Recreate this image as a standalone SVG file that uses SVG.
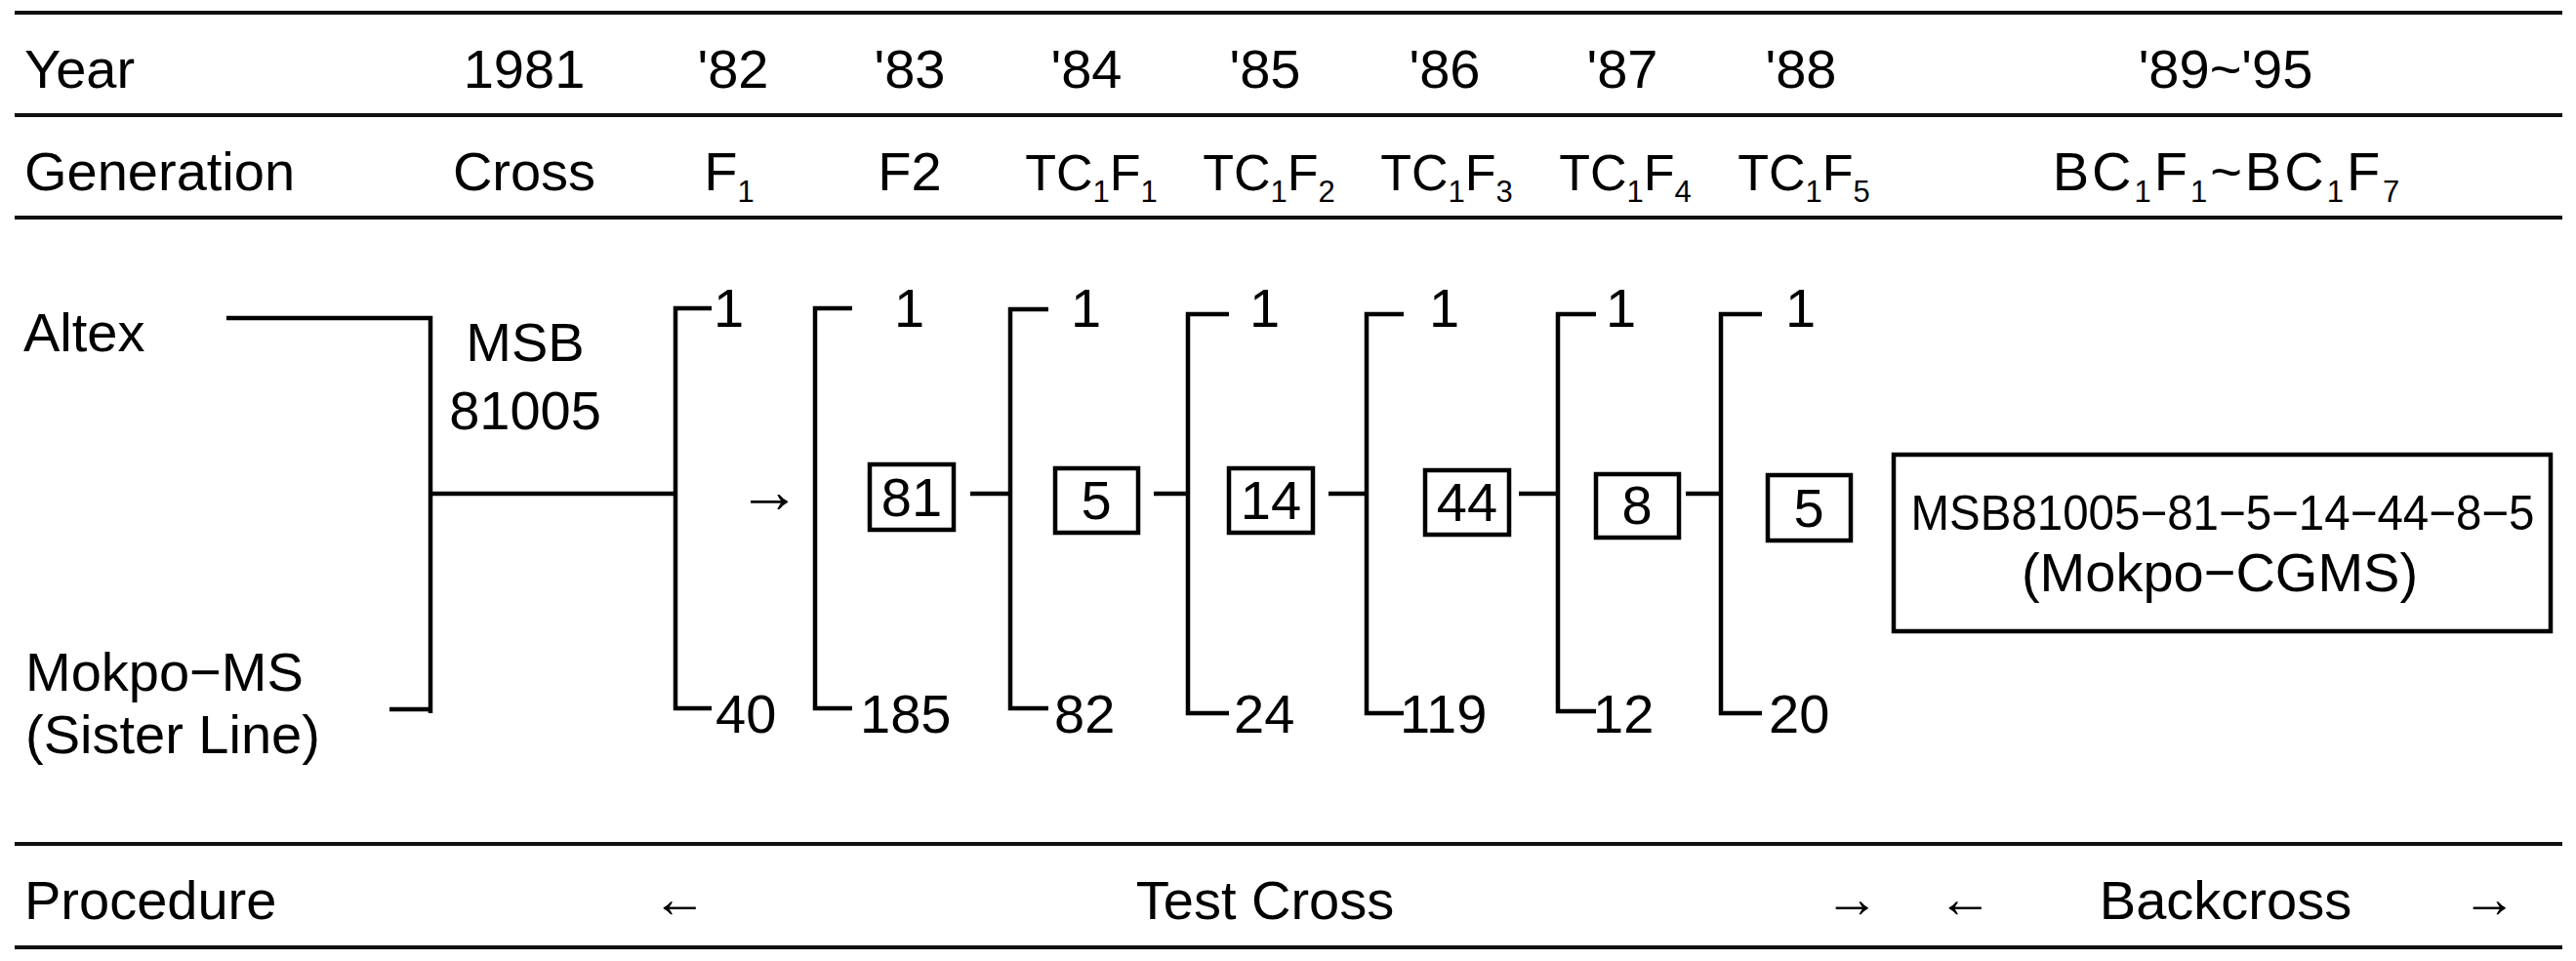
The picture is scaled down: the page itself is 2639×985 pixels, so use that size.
<svg xmlns="http://www.w3.org/2000/svg" width="2639" height="985" viewBox="0 0 2639 985">
<style>
.t{font-family:"Liberation Sans",Arial,sans-serif;font-size:56px;fill:#000}
.m{text-anchor:middle}
.sub{font-size:31px}
.tc{font-size:52px}
.rule{stroke:#111;stroke-width:4;fill:none}
.br{stroke:#000;stroke-width:4.5;fill:none;stroke-linejoin:miter;stroke-linecap:butt}
.box{stroke:#000;stroke-width:4.5;fill:#fff}
</style>
<rect width="2639" height="985" fill="#fff"/>
<g id="rules">
<line class="rule" x1="15" y1="13" x2="2625" y2="13"/>
<line class="rule" x1="15" y1="118" x2="2625" y2="118"/>
<line class="rule" x1="15" y1="223" x2="2625" y2="223"/>
<line class="rule" x1="15" y1="865" x2="2625" y2="865"/>
<line class="rule" x1="15" y1="971" x2="2625" y2="971"/>
</g>
<g id="header-year">
<text class="t" x="25" y="90">Year</text>
<text class="t m" x="537" y="90">1981</text>
<text class="t m" x="751" y="90">'82</text>
<text class="t m" x="932" y="90">'83</text>
<text class="t m" x="1113" y="90">'84</text>
<text class="t m" x="1296" y="90">'85</text>
<text class="t m" x="1480" y="90">'86</text>
<text class="t m" x="1662" y="90">'87</text>
<text class="t m" x="1845" y="90">'88</text>
<text class="t m" x="2280" y="90">'89~'95</text>
</g>
<g id="header-generation">
<text class="t" x="25" y="195">Generation</text>
<text class="t m" x="537" y="195">Cross</text>
<text class="t m" x="747" y="195">F<tspan class="sub" dy="12">1</tspan></text>
<text class="t m" x="932" y="195">F2</text>
<text class="t m tc" x="1118" y="195">TC<tspan class="sub" dy="12">1</tspan><tspan dy="-12">F</tspan><tspan class="sub" dy="12">1</tspan></text>
<text class="t m tc" x="1300" y="195">TC<tspan class="sub" dy="12">1</tspan><tspan dy="-12">F</tspan><tspan class="sub" dy="12">2</tspan></text>
<text class="t m tc" x="1482" y="195">TC<tspan class="sub" dy="12">1</tspan><tspan dy="-12">F</tspan><tspan class="sub" dy="12">3</tspan></text>
<text class="t m tc" x="1665" y="195">TC<tspan class="sub" dy="12">1</tspan><tspan dy="-12">F</tspan><tspan class="sub" dy="12">4</tspan></text>
<text class="t m tc" x="1848" y="195">TC<tspan class="sub" dy="12">1</tspan><tspan dy="-12">F</tspan><tspan class="sub" dy="12">5</tspan></text>
<text class="t m" x="2282" y="195" letter-spacing="3">BC<tspan class="sub" dy="12">1</tspan><tspan dy="-12">F</tspan><tspan class="sub" dy="12">1</tspan><tspan dy="-12">~BC</tspan><tspan class="sub" dy="12">1</tspan><tspan dy="-12">F</tspan><tspan class="sub" dy="12">7</tspan></text>
</g>
<g id="parent-altex"><text class="t" x="24" y="360">Altex</text></g>
<g id="parent-mokpo"><text class="t" x="26" y="708">Mokpo−MS</text><text class="t" x="26" y="772">(Sister Line)</text></g>
<g id="cross-msb81005"><text class="t m" x="538" y="370">MSB</text><text class="t m" x="538" y="440">81005</text></g>
<g id="f1"><text class="t" x="731" y="335">1</text><text class="t" x="733" y="751">40</text></g>
<g id="f2"><text class="t" x="916" y="335">1</text><text class="t" x="881" y="751">185</text>
<rect class="box" x="891" y="476" width="86" height="67"/><text class="t m" x="934" y="529">81</text></g>
<g id="tc1f1"><text class="t" x="1097" y="335">1</text><text class="t" x="1080" y="751">82</text>
<rect class="box" x="1081" y="480" width="85" height="66"/><text class="t m" x="1123" y="532">5</text></g>
<g id="tc1f2"><text class="t" x="1280" y="335">1</text><text class="t" x="1264" y="751">24</text>
<rect class="box" x="1259" y="480" width="86" height="66"/><text class="t m" x="1302" y="532">14</text></g>
<g id="tc1f3"><text class="t" x="1464" y="335">1</text><text class="t" x="1434" y="751">119</text>
<rect class="box" x="1460" y="482" width="86" height="66"/><text class="t m" x="1503" y="534">44</text></g>
<g id="tc1f4"><text class="t" x="1645" y="335">1</text><text class="t" x="1632" y="751">12</text>
<rect class="box" x="1635" y="486" width="85" height="65"/><text class="t m" x="1677" y="537">8</text></g>
<g id="tc1f5"><text class="t" x="1829" y="335">1</text><text class="t" x="1812" y="751">20</text>
<rect class="box" x="1811" y="487" width="85" height="67"/><text class="t m" x="1853" y="540">5</text></g>
<g id="result-mokpo-cgms">
<rect class="box" x="1940" y="466" width="673" height="181"/>
<text class="t m" x="2277" y="543" style="font-size:50px" textLength="639" lengthAdjust="spacingAndGlyphs">MSB81005−81−5−14−44−8−5</text>
<text class="t m" x="2274" y="606">(Mokpo−CGMS)</text>
</g>
<g id="connectors">
<path class="br" d="M232,326 H441 V731 M399,727 H441"/>
<path class="br" d="M441,506 H692"/>
<path class="br" d="M729,316 H692 V726 H729"/>
<text class="t" x="756" y="525" style="font-size:64px">→</text>
<path class="br" d="M873,316 H835 V726 H873"/>
<path class="br" d="M994,506 H1035"/>
<path class="br" d="M1074,317 H1035 V726 H1074"/>
<path class="br" d="M1182,506 H1217"/>
<path class="br" d="M1259,322 H1217 V731 H1259"/>
<path class="br" d="M1361,506 H1400"/>
<path class="br" d="M1438,322 H1400 V731 H1438"/>
<path class="br" d="M1556,506 H1596"/>
<path class="br" d="M1635,322 H1596 V729 H1635"/>
<path class="br" d="M1727,506 H1763"/>
<path class="br" d="M1805,322 H1763 V731 H1805"/>
</g>
<g id="procedure">
<text class="t" x="25" y="942">Procedure</text>
<text class="t m" x="696" y="940">←</text>
<text class="t m" x="1296" y="942">Test Cross</text>
<text class="t m" x="1897" y="940">→</text>
<text class="t m" x="2013" y="940">←</text>
<text class="t m" x="2280" y="942">Backcross</text>
<text class="t m" x="2550" y="940">→</text>
</g>
</svg>
